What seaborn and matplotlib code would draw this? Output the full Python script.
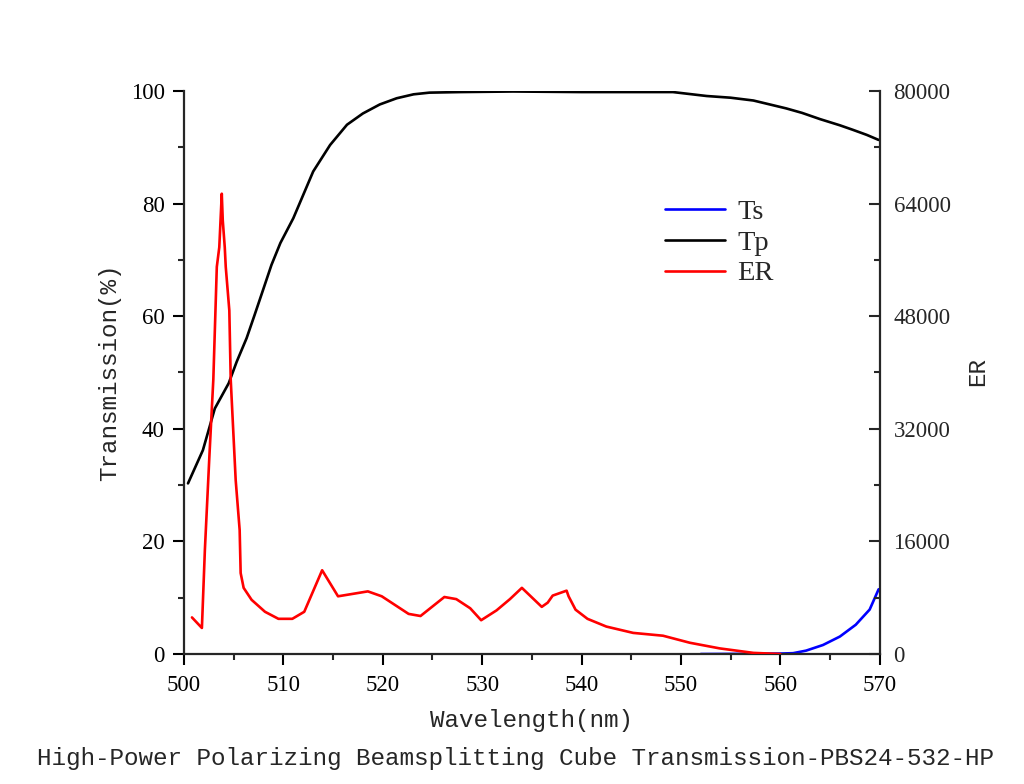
import matplotlib
matplotlib.use("Agg")
import matplotlib.pyplot as plt
import seaborn as sns
from matplotlib.ticker import AutoMinorLocator, MultipleLocator

# --- data ---
tp_wl = [500.4, 501.9, 503.1, 504.5, 505.3, 506.3, 507.1, 508.0, 508.8, 509.7,
         511.0, 513.0, 514.7, 516.4, 518.0, 519.7, 521.4, 523.1, 524.7, 527.8,
         533.1, 540.0, 549.2, 552.6, 555.0, 557.3, 560.6, 562.2, 564.0, 566.0,
         567.3, 568.7, 569.9]
tp_val = [30.3, 36.2, 43.6, 48.1, 51.9, 56.1, 60.2, 64.9, 69.1, 73.0,
          77.4, 85.7, 90.4, 94.0, 96.0, 97.6, 98.7, 99.4, 99.7, 99.8,
          99.9, 99.8, 99.8, 99.1, 98.8, 98.3, 96.9, 96.1, 95.0, 93.9,
          93.1, 92.2, 91.3]

# Ts sits on the x axis until ~552 nm (hidden by the spine in the reference)
ts_wl = [552.0, 555.0, 558.0, 560.0, 561.3, 562.6, 564.3, 566.0, 567.6, 569.0, 569.9]
ts_val = [0.0, 0.02, 0.05, 0.08, 0.15, 0.6, 1.6, 3.1, 5.2, 7.9, 11.5]

er_wl = [500.8, 501.8, 502.1, 502.55, 502.95, 503.3, 503.55, 503.8, 503.9, 504.1,
         504.2, 504.56, 504.7, 505.2, 505.6, 505.7, 506.0, 506.8, 508.15, 509.5,
         510.9, 512.1, 513.9, 515.5, 518.5, 519.9, 522.6, 523.8, 526.2, 527.4,
         528.8, 529.9, 531.45, 532.8, 534.0, 536.0, 536.6, 537.1, 538.5, 538.7,
         539.4, 540.6, 542.5, 545.2, 548.2, 550.9, 553.9, 557.3, 560.0]
er_val = [5200, 3700, 14800, 28000, 39000, 55000, 57800, 65400, 61600, 57800,
          55000, 48800, 39000, 24700, 17600, 11500, 9400, 7700, 6000, 5000,
          5000, 6000, 11900, 8200, 8900, 8200, 5700, 5400, 8100, 7800,
          6500, 4800, 6200, 7800, 9400, 6700, 7300, 8300, 9000, 8200,
          6300, 5000, 3900, 3000, 2600, 1600, 800, 160, 0]

sns.set_style("white")
plt.rcParams['font.family'] = ['Liberation Serif', 'DejaVu Serif']
plt.rcParams['axes.linewidth'] = 1.6

fig, ax = plt.subplots(figsize=(10.24, 7.84), dpi=100)
fig.subplots_adjust(left=0.1797, right=0.859, bottom=0.1658, top=0.884)
ax2 = ax.twinx()

sns.lineplot(x=ts_wl, y=ts_val, ax=ax, color='#0000ff', linewidth=1.9, label='Ts',
             sort=False, estimator=None)
sns.lineplot(x=tp_wl, y=tp_val, ax=ax, color='black', linewidth=1.9, label='Tp',
             sort=False, estimator=None)
sns.lineplot(x=er_wl, y=er_val, ax=ax2, color='#ff0000', linewidth=1.9, label='ER',
             sort=False, estimator=None)

ax.set_xlim(500, 570)
ax.set_ylim(0, 100)
ax2.set_ylim(0, 80000)
ax.xaxis.set_major_locator(MultipleLocator(10))
ax.xaxis.set_minor_locator(AutoMinorLocator(2))
ax.yaxis.set_major_locator(MultipleLocator(20))
ax.yaxis.set_minor_locator(AutoMinorLocator(2))
ax2.yaxis.set_major_locator(MultipleLocator(16000))
ax2.yaxis.set_minor_locator(AutoMinorLocator(2))

for a in (ax, ax2):
    a.spines['top'].set_visible(False)
    for s in a.spines.values():
        s.set_linewidth(1.6)
        s.set_zorder(5)
ax.spines['right'].set_visible(False)
ax2.spines['left'].set_visible(False)
ax2.spines['bottom'].set_visible(False)

ax.tick_params(axis='both', which='major', direction='out', length=8, width=1.5,
               labelsize=16.5, pad=6, colors='black')
ax.tick_params(axis='both', which='minor', direction='out', length=4, width=1.5)
ax.tick_params(axis='x', which='major', pad=7)
ax.tick_params(left=True, bottom=True, which='both')
ax2.tick_params(axis='y', which='major', direction='in', length=8, width=1.5,
                labelsize=16.5, pad=10)
ax2.tick_params(axis='y', which='minor', direction='in', length=4.5, width=1.5)
ax2.tick_params(right=True, which='both')

mono = ['Liberation Mono', 'DejaVu Sans Mono']
ax.set_xlabel('')
ax.set_ylabel('')
ax2.set_ylabel('')
fig.text(0.519, 1 - 721 / 784, 'Wavelength(nm)', family=mono, fontsize=17.5,
         ha='center', va='center')
fig.text(0.503, 1 - 758 / 784, 'High-Power Polarizing Beamsplitting Cube Transmission-PBS24-532-HP',
         family=mono, fontsize=17.5, ha='center', va='center')
fig.text(110 / 1024, 1 - 372 / 784, 'Transmission(%)', family=mono, fontsize=17.5,
         rotation=90, ha='center', va='center')
fig.text(978 / 1024, 1 - 372 / 784, 'ER', family=mono, fontsize=17.5,
         rotation=90, ha='center', va='center')

h1, l1 = ax.get_legend_handles_labels()
h2, l2 = ax2.get_legend_handles_labels()
if ax.get_legend():
    ax.get_legend().remove()
if ax2.get_legend():
    ax2.get_legend().remove()
fig.legend(h1 + h2, l1 + l2, loc='upper left', bbox_to_anchor=(665 / 1024, 1 - 199 / 784),
           frameon=False, fontsize=20.5, handlelength=2.1, handletextpad=0.45,
           labelspacing=0.17, borderpad=0, borderaxespad=0)

fig.savefig('out.png', dpi=100)
